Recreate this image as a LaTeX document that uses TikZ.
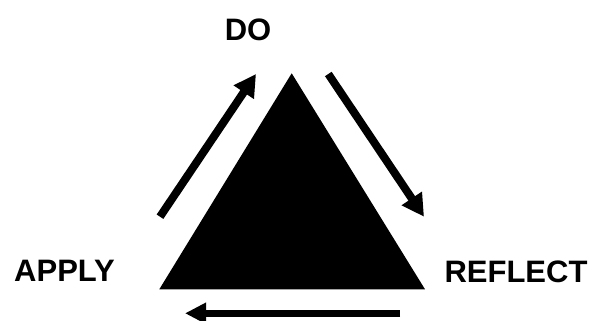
\documentclass[tikz,border=0pt]{standalone}
\usepackage{fontspec}
\setmainfont{Liberation Sans}
\usetikzlibrary{arrows.meta}
\begin{document}
\begin{tikzpicture}[x=1pt,y=1pt,
  lbl/.style={font=\bfseries\fontsize{31}{31}\selectfont, inner sep=0pt, text=black},
  cyc/.style={line width=8pt, -{Triangle[length=22pt,width=23pt]}},
  cycb/.style={line width=7pt, -{Triangle[length=21pt,width=20pt]}}]
\useasboundingbox (0,0) rectangle (592,321);
% triangle
\coordinate (top) at (291.7,247.7);
\coordinate (bl) at (159.3,31.7);
\coordinate (br) at (425,31.7);
\fill[black] (top) -- (bl) -- (br) -- cycle;
% labels
\node[lbl] (do) at (248,291) {DO};
\node[lbl] (apply) at (64.5,50) {APPLY};
\node[lbl] (reflect) at (516,49.5) {REFLECT};
% arrow endpoints
\coordinate (a1s) at (160,104.3);
\coordinate (a1e) at (256,247);
\coordinate (a2s) at (328.3,247);
\coordinate (a2e) at (424,104.3);
\coordinate (a3s) at (400,7.7);
\coordinate (a3e) at (185,7.7);
\draw[cyc] (a1s) -- (a1e);
\draw[cyc] (a2s) -- (a2e);
\draw[cycb] (a3s) -- (a3e);
\end{tikzpicture}
\end{document}
